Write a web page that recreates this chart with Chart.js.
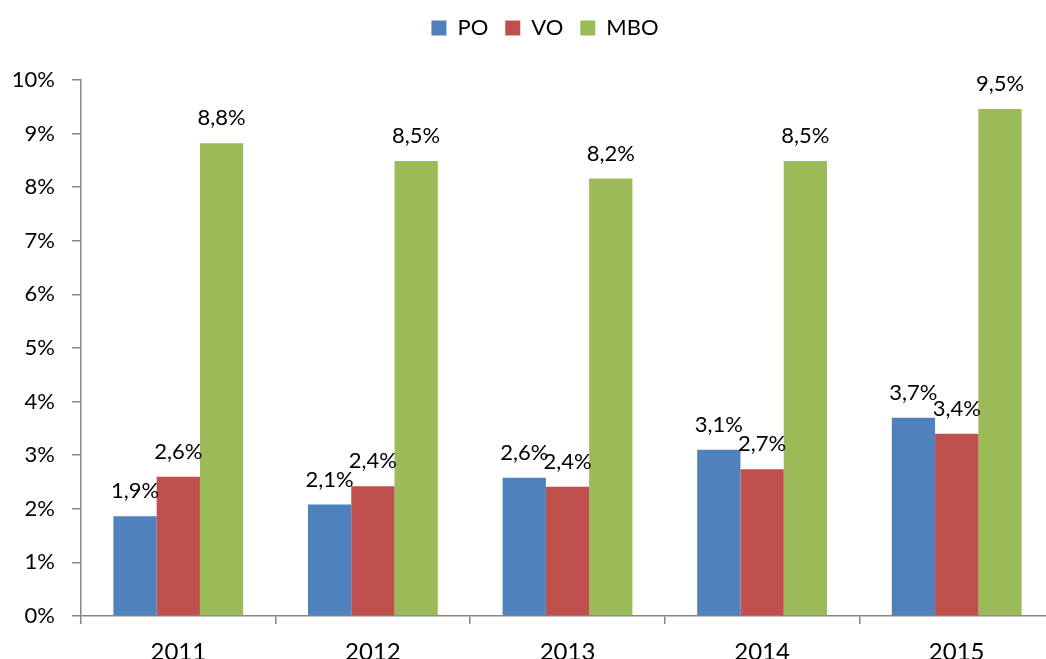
<!DOCTYPE html>
<html>
<head>
<meta charset="utf-8">
<script src="https://cdn.jsdelivr.net/npm/chart.js@4"></script>
<style>
  body { margin: 0; background: #fff; overflow: hidden; }
  #wrap { width: 1046px; height: 659px; overflow: hidden; }
</style>
</head>
<body>
<div id="wrap">
  <canvas id="chart" width="1090" height="659"></canvas>
</div>
<script>
// data
const years = ["2011", "2012", "2013", "2014", "2015"];
const poValues = [1.86, 2.08, 2.58, 3.10, 3.70];
const voValues = [2.60, 2.42, 2.41, 2.74, 3.40];
const mboValues = [8.82, 8.49, 8.16, 8.49, 9.46];
const yTicks = [0, 1, 2, 3, 4, 5, 6, 7, 8, 9, 10];

const axisColor = "#868686";
const fontFamily = "Lato, 'Open Sans', sans-serif";

function pct(v) {
    return v.toFixed(1).replace(".", ",") + "%";
}

// labels above the bars
const barLabels = {
    id: "barLabels",
    afterDatasetsDraw(chart) {
        const ctx = chart.ctx;
        ctx.save();
        ctx.font = "22px " + fontFamily;
        ctx.fillStyle = "#000";
        ctx.textAlign = "center";
        ctx.textBaseline = "alphabetic";
        chart.data.datasets.forEach((ds, i) => {
            chart.getDatasetMeta(i).data.forEach((bar, j) => {
                ctx.fillText(pct(ds.data[j]), bar.x, bar.y - 18);
            });
        });
        ctx.restore();
    }
};

// legend block tall enough so the plot starts at y=80,
// and centred on the wider original chart
const legendHeight = {
    id: "legendHeight",
    beforeLayout(chart) {
        const lg = chart.legend;
        if (lg && !lg._patched) {
            const fit = lg.fit;
            lg.fit = function () {
                fit.call(this);
                this.height = 80;
            };
            lg._patched = true;
        }
    },
    afterLayout(chart) {
        const lg = chart.legend;
        if (lg) {
            lg.left += 18;
            lg.right += 18;
        }
    }
};

new Chart(document.getElementById("chart"), {
    type: "bar",
    data: {
        labels: years,
        datasets: [
            { label: "PO", data: poValues, backgroundColor: "#4F81BD" },
            { label: "VO", data: voValues, backgroundColor: "#C0504D" },
            { label: "MBO", data: mboValues, backgroundColor: "#9BBB59" }
        ]
    },
    options: {
        responsive: false,
        animation: false,
        layout: { padding: { top: 0, left: 0, right: 36, bottom: 0 } },
        datasets: {
            bar: { categoryPercentage: 0.667, barPercentage: 1.0 }
        },
        plugins: {
            legend: {
                position: "top",
                labels: {
                    boxWidth: 15,
                    boxHeight: 15,
                    padding: 17,
                    color: "#000",
                    font: { family: fontFamily, size: 22 }
                }
            },
            tooltip: { enabled: false }
        },
        scales: {
            x: {
                grid: {
                    display: true,
                    drawOnChartArea: false,
                    drawTicks: true,
                    tickLength: 8,
                    color: axisColor,
                    lineWidth: 1.5
                },
                border: { color: axisColor, width: 1.5 },
                ticks: {
                    color: "#000",
                    padding: 14,
                    font: { family: fontFamily, size: 24 }
                },
                afterFit(scale) { scale.height = 43; }
            },
            y: {
                min: 0,
                max: 10,
                afterBuildTicks(scale) {
                    scale.ticks = yTicks.map(v => ({ value: v }));
                },
                grid: {
                    display: true,
                    drawOnChartArea: false,
                    drawTicks: true,
                    tickLength: 9,
                    color: axisColor,
                    lineWidth: 1.5
                },
                border: { color: axisColor, width: 1.5 },
                ticks: {
                    color: "#000",
                    padding: 17,
                    font: { family: fontFamily, size: 22 },
                    callback: v => v + "%"
                },
                afterFit(scale) { scale.width = 81; }
            }
        }
    },
    plugins: [barLabels, legendHeight]
});
</script>
</body>
</html>
